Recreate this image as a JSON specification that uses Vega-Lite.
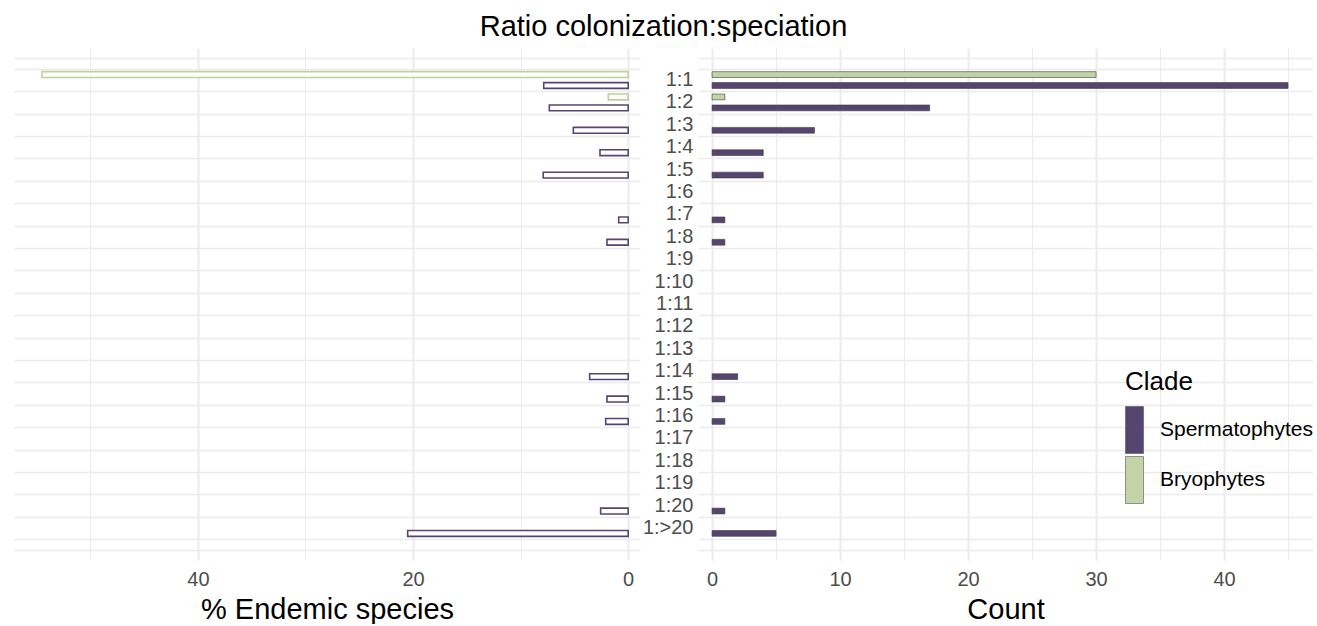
{
  "$schema": "https://vega.github.io/schema/vega-lite/v6.json",
  "padding": {"left": 14, "top": 13, "right": 0, "bottom": 0},
  "background": "white",
  "title": {"text": "Ratio colonization:speciation", "fontSize": 29, "font": "Liberation Sans", "fontWeight": "normal", "color": "black", "anchor": "middle", "offset": 6},
  "data": {"values": [
    {"ratio": "1:1", "clade": "Bryophytes", "pct": 54.5, "count": 30},
    {"ratio": "1:1", "clade": "Spermatophytes", "pct": 7.85, "count": 45},
    {"ratio": "1:2", "clade": "Bryophytes", "pct": 1.85, "count": 1},
    {"ratio": "1:2", "clade": "Spermatophytes", "pct": 7.33, "count": 17},
    {"ratio": "1:3", "clade": "Spermatophytes", "pct": 5.1, "count": 8},
    {"ratio": "1:4", "clade": "Spermatophytes", "pct": 2.62, "count": 4},
    {"ratio": "1:5", "clade": "Spermatophytes", "pct": 7.9, "count": 4},
    {"ratio": "1:7", "clade": "Spermatophytes", "pct": 0.88, "count": 1},
    {"ratio": "1:8", "clade": "Spermatophytes", "pct": 1.97, "count": 1},
    {"ratio": "1:14", "clade": "Spermatophytes", "pct": 3.58, "count": 2},
    {"ratio": "1:15", "clade": "Spermatophytes", "pct": 1.97, "count": 1},
    {"ratio": "1:16", "clade": "Spermatophytes", "pct": 2.09, "count": 1},
    {"ratio": "1:20", "clade": "Spermatophytes", "pct": 2.56, "count": 1},
    {"ratio": "1:>20", "clade": "Spermatophytes", "pct": 20.5, "count": 5}
  ]},
  "spacing": 2,
  "resolve": {"scale": {"x": "independent", "y": "independent"}, "legend": {"fill": "independent"}},
  "hconcat": [
    {
      "width": 626,
      "height": 512,
      "layer": [
        {
          "mark": {"type": "bar", "fill": "white", "strokeWidth": 1.6},
          "encoding": {
            "y": {"field": "ratio", "type": "nominal", "scale": {"domain": ["1:1","1:2","1:3","1:4","1:5","1:6","1:7","1:8","1:9","1:10","1:11","1:12","1:13","1:14","1:15","1:16","1:17","1:18","1:19","1:20","1:>20"], "paddingInner": 0, "paddingOuter": 0.93}, "axis": null},
            "yOffset": {"field": "clade", "type": "nominal", "scale": {"domain": ["Bryophytes", "Spermatophytes"], "paddingInner": 0.47, "paddingOuter": 0.26}},
            "x": {"field": "pct", "type": "quantitative", "scale": {"domain": [-1.1, 57.1], "reverse": true, "nice": false},
              "axis": {"values": [0, 10, 20, 30, 40, 50], "labelExpr": "datum.value % 20 == 0 ? datum.label : ''", "gridWidth": {"condition": {"test": "datum.value % 20 == 0", "value": 2}, "value": 1}, "title": "% Endemic species"}},
            "stroke": {"field": "clade", "type": "nominal", "scale": {"domain": ["Spermatophytes", "Bryophytes"], "range": ["#574571", "#bcd29c"]}, "legend": null}
          }
        },
        {
          "mark": {"type": "rule", "opacity": 0},
          "encoding": {
            "y": {"datum": 0, "type": "quantitative", "scale": {"domain": [-0.43, 22.43], "reverse": true, "nice": false},
              "axis": {"values": [0, 0.5, 1.5, 2.5, 3.5, 4.5, 5.5, 6.5, 7.5, 8.5, 9.5, 10.5, 11.5, 12.5, 13.5, 14.5, 15.5, 16.5, 17.5, 18.5, 19.5, 20.5, 21.5, 22], "grid": true, "labels": false, "ticks": false, "domain": false, "title": null, "orient": "right", "minExtent": 0, "maxExtent": 0, "gridWidth": 1.5}}
          }
        }
      ],
      "resolve": {"scale": {"y": "independent"}, "axis": {"y": "independent"}}
    },
    {
      "width": 615,
      "height": 512,
      "layer": [
        {
          "mark": {"type": "bar", "stroke": "#3a3a3a", "strokeWidth": 0.6},
          "encoding": {
            "y": {"field": "ratio", "type": "nominal", "scale": {"domain": ["1:1","1:2","1:3","1:4","1:5","1:6","1:7","1:8","1:9","1:10","1:11","1:12","1:13","1:14","1:15","1:16","1:17","1:18","1:19","1:20","1:>20"], "paddingInner": 0, "paddingOuter": 0.93},
              "axis": {"orient": "left", "grid": false, "ticks": false, "domain": false, "title": null, "labelPadding": 5, "labelFontSize": 20, "labelColor": "#4d4d4d", "labelAlign": "right"}},
            "yOffset": {"field": "clade", "type": "nominal", "scale": {"domain": ["Bryophytes", "Spermatophytes"], "paddingInner": 0.47, "paddingOuter": 0.26}},
            "x": {"field": "count", "type": "quantitative", "scale": {"domain": [-1.1, 46.95], "nice": false},
              "axis": {"values": [0, 5, 10, 15, 20, 25, 30, 35, 40, 45], "labelExpr": "datum.value % 10 == 0 ? datum.label : ''", "gridWidth": {"condition": {"test": "datum.value % 10 == 0", "value": 2}, "value": 1}, "title": "Count"}},
            "fill": {"field": "clade", "type": "nominal", "scale": {"domain": ["Spermatophytes", "Bryophytes"], "range": ["#574571", "#c3d3a8"]},
              "legend": {"title": "Clade", "orient": "none", "legendX": 427, "legendY": 321, "symbolType": "M-1,-1L-0.234,-1L-0.234,1L-1,1Z", "symbolSize": 2209, "symbolStrokeColor": "#555555", "symbolStrokeWidth": 0.6, "symbolOpacity": 1, "labelOffset": -13, "rowPadding": 0, "titlePadding": 11, "titleFontSize": 26, "titleFontWeight": "normal", "titleColor": "black", "labelFontSize": 21, "labelColor": "black"}}
          }
        },
        {
          "mark": {"type": "rule", "opacity": 0},
          "encoding": {
            "y": {"datum": 0, "type": "quantitative", "scale": {"domain": [-0.43, 22.43], "reverse": true, "nice": false},
              "axis": {"values": [0, 0.5, 1.5, 2.5, 3.5, 4.5, 5.5, 6.5, 7.5, 8.5, 9.5, 10.5, 11.5, 12.5, 13.5, 14.5, 15.5, 16.5, 17.5, 18.5, 19.5, 20.5, 21.5, 22], "grid": true, "labels": false, "ticks": false, "domain": false, "title": null, "orient": "right", "minExtent": 0, "maxExtent": 0, "gridWidth": 1.5}}
          }
        }
      ],
      "resolve": {"scale": {"y": "independent"}, "axis": {"y": "independent"}}
    }
  ],
  "config": {
    "view": {"stroke": null},
    "font": "Liberation Sans",
    "axis": {"labelFont": "Liberation Sans", "labelFontSize": 20, "labelColor": "#4d4d4d", "titleFont": "Liberation Sans", "titleFontSize": 29, "titleFontWeight": "normal", "titleColor": "black", "domain": false, "ticks": false, "gridColor": "#ebebeb", "labelPadding": 9, "titlePadding": 6}
  }
}
